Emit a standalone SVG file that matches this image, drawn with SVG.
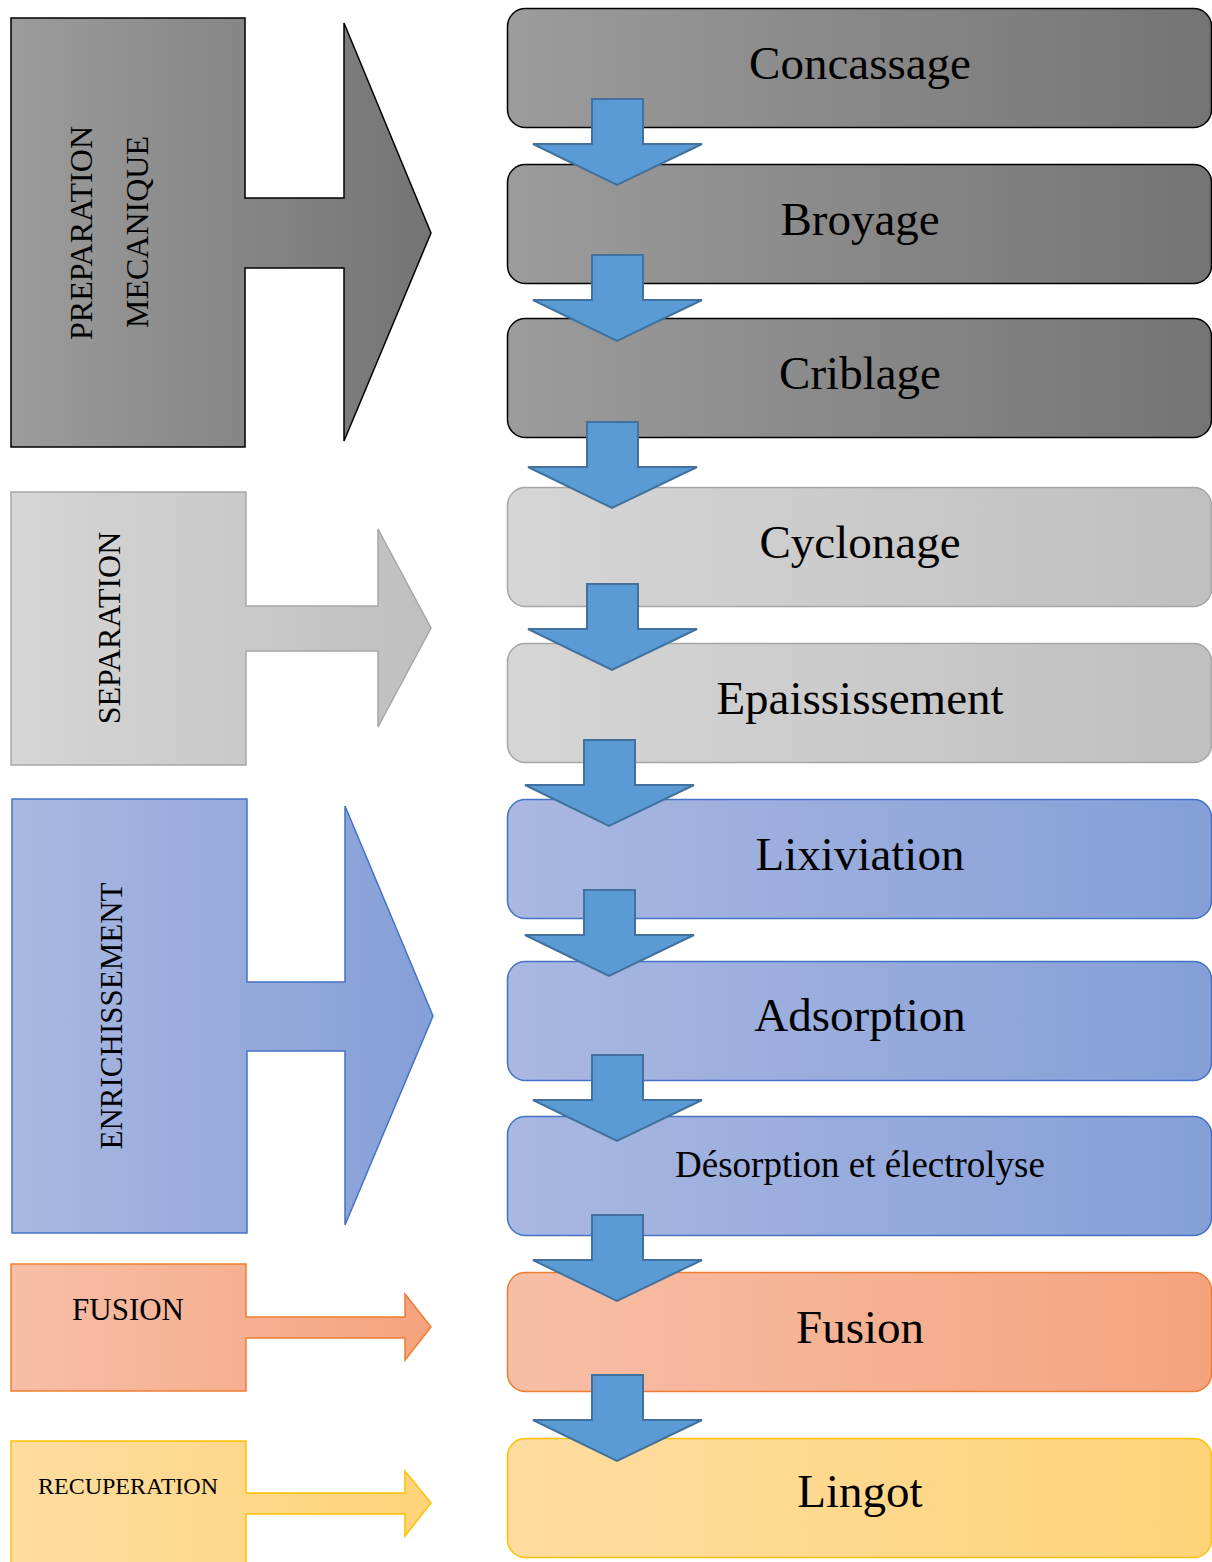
<svg xmlns="http://www.w3.org/2000/svg" xmlns:xlink="http://www.w3.org/1999/xlink" width="1212" height="1562" viewBox="0 0 1212 1562">
<defs>
<linearGradient id="gDark" x1="0" y1="0" x2="1" y2="0"><stop offset="0" stop-color="#9c9c9c"/><stop offset="1" stop-color="#747474"/></linearGradient>
<linearGradient id="gLight" x1="0" y1="0" x2="1" y2="0"><stop offset="0" stop-color="#d6d6d6"/><stop offset="1" stop-color="#bfbfbf"/></linearGradient>
<linearGradient id="gBlue" x1="0" y1="0" x2="1" y2="0"><stop offset="0" stop-color="#aab8e2"/><stop offset="1" stop-color="#859fd7"/></linearGradient>
<linearGradient id="gOrange" x1="0" y1="0" x2="1" y2="0"><stop offset="0" stop-color="#f7bfa7"/><stop offset="1" stop-color="#f5a37e"/></linearGradient>
<linearGradient id="gYellow" x1="0" y1="0" x2="1" y2="0"><stop offset="0" stop-color="#fedda0"/><stop offset="1" stop-color="#fed379"/></linearGradient>
<path id="down" d="M-25,0 H26 V45 H85 L0,86 L-84,45 H-25 Z"/>
</defs>
<style>
.dark{fill:url(#gDark);stroke:#000;stroke-width:1.5}
.light{fill:url(#gLight);stroke:#a6a6a6;stroke-width:1.5}
.blue{fill:url(#gBlue);stroke:#4472c4;stroke-width:1.5}
.orange{fill:url(#gOrange);stroke:#ed7d31;stroke-width:1.5}
.yellow{fill:url(#gYellow);stroke:#ffc000;stroke-width:1.5}
.lbl{font-family:"Liberation Serif","Times New Roman",serif;fill:#000;text-anchor:middle}
.big{font-size:47px}
.side{font-size:32px}
.arrow{fill:#5b9bd5;stroke:#41719c;stroke-width:2}
</style>
<rect width="1212" height="1562" fill="#fff"/>

<g id="phase-preparation">
<path class="dark" d="M11,18 H245 V198 H344 V23 L431,233 L344,441 V268 H245 V447 H11 Z"/>
<text class="lbl side" transform="translate(92,233) rotate(-90)">PREPARATION</text>
<text class="lbl side" transform="translate(148,232) rotate(-90)">MECANIQUE</text>
</g>
<g id="phase-separation">
<path class="light" d="M11,492 H246 V606 H378 V529 L431,628 L378,727 V651 H246 V765 H11 Z"/>
<text class="lbl side" transform="translate(120,628) rotate(-90)">SEPARATION</text>
</g>
<g id="phase-enrichissement">
<path class="blue" d="M12,799 H247 V982 H345 V806 L433,1016 L345,1225 V1051 H247 V1233 H12 Z"/>
<text class="lbl" style="font-size:31px" transform="translate(122,1016) rotate(-90)">ENRICHISSEMENT</text>
</g>
<g id="phase-fusion">
<path class="orange" d="M11,1264 H246 V1317 H405 V1294 L431,1327 L405,1360 V1338 H246 V1391 H11 Z"/>
<text class="lbl" style="font-size:31px" x="128" y="1320">FUSION</text>
</g>
<g id="phase-recuperation">
<path class="yellow" d="M11,1441 H246 V1493 H405 V1471 L431,1503 L405,1536 V1514 H246 V1566 H11 Z"/>
<text class="lbl" style="font-size:24px" x="128" y="1494">RECUPERATION</text>
</g>

<g id="step-concassage">
<rect class="dark" x="507.5" y="8.5" width="704" height="119" rx="18"/>
<text class="lbl big" x="860" y="79">Concassage</text>
</g>
<g id="step-broyage">
<rect class="dark" x="507.5" y="164.5" width="704" height="119" rx="18"/>
<text class="lbl big" x="860" y="235">Broyage</text>
</g>
<g id="step-criblage">
<rect class="dark" x="507.5" y="318.5" width="704" height="119" rx="18"/>
<text class="lbl big" x="860" y="389">Criblage</text>
</g>
<g id="step-cyclonage">
<rect class="light" x="507.5" y="487.5" width="704" height="119" rx="18"/>
<text class="lbl big" x="860" y="558">Cyclonage</text>
</g>
<g id="step-epaississement">
<rect class="light" x="507.5" y="643.5" width="704" height="119" rx="18"/>
<text class="lbl big" x="860" y="714">Epaississement</text>
</g>
<g id="step-lixiviation">
<rect class="blue" x="507.5" y="799.5" width="704" height="119" rx="18"/>
<text class="lbl big" x="860" y="870">Lixiviation</text>
</g>
<g id="step-adsorption">
<rect class="blue" x="507.5" y="961.5" width="704" height="119" rx="18"/>
<text class="lbl big" x="860" y="1031">Adsorption</text>
</g>
<g id="step-desorption">
<rect class="blue" x="507.5" y="1116.5" width="704" height="119" rx="18"/>
<text class="lbl" style="font-size:37px" x="860" y="1177">Désorption et électrolyse</text>
</g>
<g id="step-fusion">
<rect class="orange" x="507.5" y="1272.5" width="704" height="119" rx="18"/>
<text class="lbl big" x="860" y="1343">Fusion</text>
</g>
<g id="step-lingot">
<rect class="yellow" x="507.5" y="1438.5" width="704" height="119" rx="18"/>
<text class="lbl big" x="860" y="1507">Lingot</text>
</g>

<g id="connectors">
<use class="arrow" xlink:href="#down" href="#down" x="617" y="99"/>
<use class="arrow" xlink:href="#down" href="#down" x="617" y="255"/>
<use class="arrow" xlink:href="#down" href="#down" x="612" y="422"/>
<use class="arrow" xlink:href="#down" href="#down" x="612" y="584"/>
<use class="arrow" xlink:href="#down" href="#down" x="609" y="740"/>
<use class="arrow" xlink:href="#down" href="#down" x="609" y="890"/>
<use class="arrow" xlink:href="#down" href="#down" x="617" y="1055"/>
<use class="arrow" xlink:href="#down" href="#down" x="617" y="1215"/>
<use class="arrow" xlink:href="#down" href="#down" x="617" y="1375"/>
</g>
</svg>
